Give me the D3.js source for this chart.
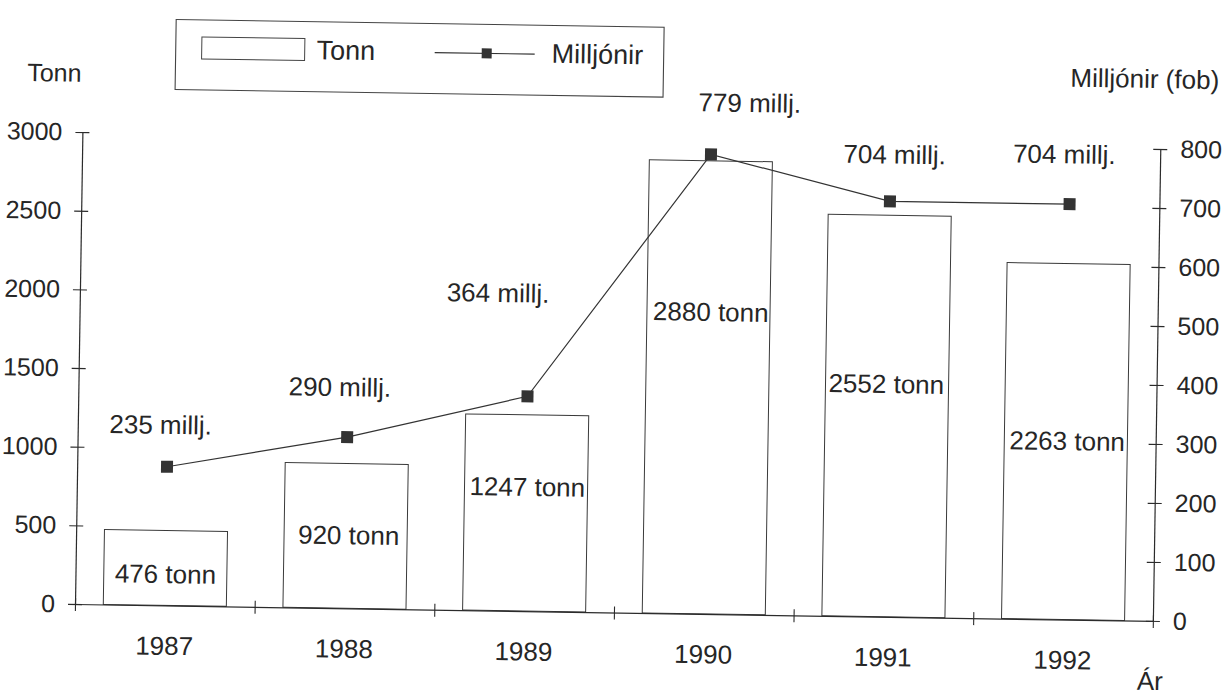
<!DOCTYPE html>
<html>
<head>
<meta charset="utf-8">
<script src="https://cdn.jsdelivr.net/npm/d3@7"></script>
<style>
  html, body { margin: 0; padding: 0; background: #ffffff; }
  svg { display: block; }
  text { font-family: "Liberation Sans", Arial, sans-serif; fill: #262626; }
</style>
</head>
<body>
<svg id="chart" width="1227" height="695"></svg>
<script>
// ---- data ----
const years = ["1987", "1988", "1989", "1990", "1991", "1992"];
const tonn = [476, 920, 1247, 2880, 2552, 2263];
const millj = [235, 290, 364, 779, 704, 704];
const tonnTicks = [0, 500, 1000, 1500, 2000, 2500, 3000];
const milljTicks = [0, 100, 200, 300, 400, 500, 600, 700, 800];
const legendLabels = ["Tonn", "Milljónir"];
const axisTitles = { left: "Tonn", right: "Milljónir (fob)", bottom: "Ár" };

// ---- annotation layout (label placement) ----
const tonnLabelLevel = [200, 465, 790, 1920, 1480, 1135];   // in Tonn units
const tonnLabelDx = [11, 14, 5, 6, 3, 5];
const milljLabelDx = [-7, -8, -31, 38, 4, -6];
const milljLabelDy = [-42, -50, -103, -52, -47, -50];

// ---- geometry ----
const X0 = 75, X1 = 1153, Y0 = 604, YT = 132;
const svg = d3.select("#chart");
svg.append("rect").attr("width", 1227).attr("height", 695).attr("fill", "#fff");
const g = svg.append("g").attr("transform", `rotate(0.9, ${X0}, ${Y0})`);

const x = d3.scaleBand().domain(years).range([X0, X1]).padding(0);
const xEdge = d3.scaleLinear().domain([0, years.length]).range([X0, X1]);
const yL = d3.scaleLinear().domain([0, 3000]).range([Y0, YT]);
const yR = d3.scaleLinear().domain([0, 800]).range([Y0, YT]);
const barW = x.bandwidth() * 0.685;
const cx = d => x(d) + x.bandwidth() / 2;

const FS = 25, FA = 26;
const ink = "#2b2b2b";
const fmt = d3.format("d");

// bars
g.selectAll("rect.bar").data(years).join("rect")
  .attr("class", "bar")
  .attr("x", (d) => cx(d) - barW / 2)
  .attr("y", (d, i) => yL(tonn[i]))
  .attr("width", barW)
  .attr("height", (d, i) => yL(0) - yL(tonn[i]))
  .attr("fill", "#fff").attr("stroke", "#3a3a3a").attr("stroke-width", 1);

// left axis
const gl = g.append("g").attr("transform", `translate(${X0},0)`)
  .call(d3.axisLeft(yL).tickValues(tonnTicks).tickFormat(fmt).tickSizeOuter(0).tickSizeInner(7).tickPadding(13));
gl.selectAll(".tick line").attr("x1", -7).attr("x2", 7);
// right axis
const gr = g.append("g").attr("transform", `translate(${X1},0)`)
  .call(d3.axisRight(yR).tickValues(milljTicks).tickFormat(fmt).tickSizeOuter(0).tickSizeInner(7).tickPadding(13));
gr.selectAll(".tick line").attr("x1", -7).attr("x2", 7);
// bottom axis: boundary ticks
const gb = g.append("g").attr("transform", `translate(0,${Y0})`)
  .call(d3.axisBottom(xEdge).tickValues(d3.range(years.length + 1)).tickFormat("").tickSizeOuter(0).tickSizeInner(7));
gb.selectAll(".tick line").attr("y1", -6).attr("y2", 7);
// bottom axis: year labels
const gy = g.append("g").attr("transform", `translate(0,${Y0})`)
  .call(d3.axisBottom(x).tickSize(0).tickPadding(31));
gy.select(".domain").remove();

[gl, gr, gb, gy].forEach(a => {
  a.selectAll("path.domain").attr("stroke", ink).attr("stroke-width", 1.2);
  a.selectAll(".tick line").attr("stroke", ink).attr("stroke-width", 1.1);
  a.selectAll("text").attr("font-size", FS).attr("fill", "#262626")
    .attr("font-family", "Liberation Sans, Arial, sans-serif");
});
gy.selectAll("text").attr("font-size", 26);

// line series
const line = d3.line().x(d => cx(d.year)).y(d => yR(d.v));
const pts = years.map((y, i) => ({ year: y, v: millj[i] }));
g.append("path").datum(pts).attr("d", line)
  .attr("fill", "none").attr("stroke", "#333").attr("stroke-width", 1.2);
g.selectAll("rect.mk").data(pts).join("rect")
  .attr("class", "mk")
  .attr("x", d => cx(d.year) - 6).attr("y", d => yR(d.v) - 6)
  .attr("width", 12).attr("height", 12).attr("fill", "#333");

// value labels
g.selectAll("text.tl").data(years).join("text")
  .attr("class", "tl")
  .attr("x", (d, i) => cx(d) - barW / 2 + tonnLabelDx[i])
  .attr("y", (d, i) => yL(tonnLabelLevel[i]))
  .attr("dy", "0.35em")
  .attr("font-size", FA)
  .text((d, i) => `${tonn[i]} tonn`);
g.selectAll("text.ml").data(pts).join("text")
  .attr("class", "ml")
  .attr("x", (d, i) => cx(d.year) + milljLabelDx[i])
  .attr("y", (d, i) => yR(d.v) + milljLabelDy[i])
  .attr("dy", "0.35em")
  .attr("text-anchor", "middle")
  .attr("font-size", FA)
  .text(d => `${d.v} millj.`);

// axis titles
g.append("text").attr("x", 19).attr("y", 73).attr("dy", "0.35em").attr("font-size", FS).text(axisTitles.left);
g.append("text").attr("x", 1062).attr("y", 62).attr("dy", "0.35em").attr("font-size", 26).text(axisTitles.right);
g.append("text").attr("x", 1138).attr("y", 664).attr("dy", "0.35em").attr("font-size", 26).text(axisTitles.bottom);

// legend
const lg = g.append("g");
lg.append("rect").attr("x", 167).attr("y", 18).attr("width", 488).attr("height", 70)
  .attr("fill", "none").attr("stroke", "#444").attr("stroke-width", 1.1);
lg.append("rect").attr("x", 193).attr("y", 35).attr("width", 103).attr("height", 22)
  .attr("fill", "#fff").attr("stroke", "#444").attr("stroke-width", 1);
lg.append("text").attr("x", 308).attr("y", 46).attr("dy", "0.35em")
  .attr("font-family", "Lato, sans-serif").attr("font-size", 27).text(legendLabels[0]);
lg.append("line").attr("x1", 426).attr("x2", 526).attr("y1", 47).attr("y2", 47)
  .attr("stroke", "#333").attr("stroke-width", 1.1);
lg.append("rect").attr("x", 473).attr("y", 42).attr("width", 10).attr("height", 10).attr("fill", "#333");
lg.append("text").attr("x", 543).attr("y", 46).attr("dy", "0.35em")
  .attr("font-family", "Lato, sans-serif").attr("font-size", 27).text(legendLabels[1]);
</script>
</body>
</html>
